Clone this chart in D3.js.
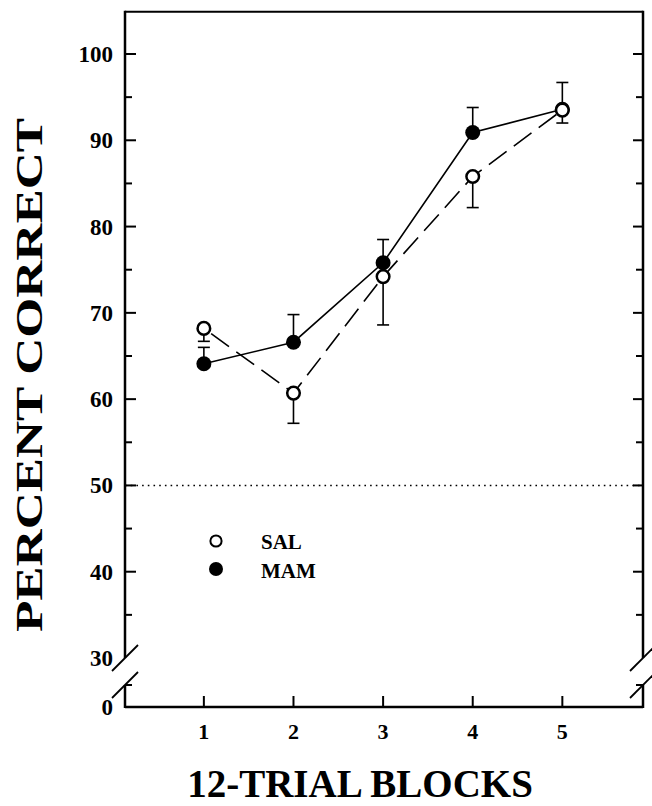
<!DOCTYPE html>
<html>
<head>
<meta charset="utf-8">
<script src="https://cdn.jsdelivr.net/npm/d3@7"></script>
<style>
  body { margin: 0; background: #fff; }
  text { font-family: "Liberation Serif", "Times New Roman", serif; font-weight: bold; fill: #000; }
</style>
</head>
<body>
<script>
// data
var blocks = [1, 2, 3, 4, 5];
var salMean = [68.2, 60.7, 74.2, 85.8, 93.5];
var mamMean = [64.1, 66.6, 75.8, 90.9, 93.6];
// error bar ends (null = not drawn / hidden)
var salHi = [null, null, null, null, 96.7];
var salLo = [66.7, 57.2, 68.6, 82.2, 92.0];
var mamHi = [66.0, 69.8, 78.5, 93.8, null];
var mamLo = [null, null, null, null, null];
var yTicks = [30, 40, 50, 60, 70, 80, 90, 100];
var yMinor = [35, 45, 55, 65, 75, 85, 95];

var width = 652, height = 806;

var svg = d3.select("body").append("svg")
    .attr("width", width)
    .attr("height", height);

// x scale
var x = d3.scaleLinear().domain([0.12, 5.9]).range([125, 643]);
// upper y part (30-105), lower part below the break (0-5)
var yTop = d3.scaleLinear().domain([30, 100]).range([658, 54]);
var yLow = d3.scaleLinear().domain([0, 5]).range([707, 685]);
function y(v) { return v >= 30 ? yTop(v) : yLow(v); }

var x0 = x.range()[0], x1 = x.range()[1];
var yTopEdge = yTop(104.9), yBottom = yLow(0);
var breakHi = yTop(30), breakLo = yLow(5);

var frame = svg.append("g").attr("stroke", "#000").attr("fill", "none");

// top line
frame.append("line").attr("x1", x0).attr("x2", x1).attr("y1", yTopEdge).attr("y2", yTopEdge).attr("stroke-width", 2);
// bottom axis
frame.append("line").attr("x1", x0).attr("x2", x1).attr("y1", yBottom).attr("y2", yBottom).attr("stroke-width", 2.5);
// left and right axis, upper segment and lower segment
[x0, x1].forEach(function(xx) {
    frame.append("line").attr("x1", xx).attr("x2", xx).attr("y1", yTopEdge - 1).attr("y2", breakHi).attr("stroke-width", 2.5);
    frame.append("line").attr("x1", xx).attr("x2", xx).attr("y1", breakLo).attr("y2", yBottom + 1).attr("stroke-width", 2.5);
    // break slashes
    [breakHi, breakLo].forEach(function(yy) {
        frame.append("line")
            .attr("x1", xx - 13).attr("y1", yy + 13)
            .attr("x2", xx + 13).attr("y2", yy - 13)
            .attr("stroke-width", 1.8);
    });
});

// y ticks (inward on both sides)
var majorT = yTicks.filter(function(d) { return d > 30; });
majorT.forEach(function(d) {
    frame.append("line").attr("x1", x0).attr("x2", x0 + 11).attr("y1", y(d)).attr("y2", y(d)).attr("stroke-width", 2);
    frame.append("line").attr("x1", x1).attr("x2", x1 - 10).attr("y1", y(d)).attr("y2", y(d)).attr("stroke-width", 2);
});
yMinor.forEach(function(d) {
    frame.append("line").attr("x1", x0).attr("x2", x0 + 7).attr("y1", y(d)).attr("y2", y(d)).attr("stroke-width", 2);
    frame.append("line").attr("x1", x1).attr("x2", x1 - 7).attr("y1", y(d)).attr("y2", y(d)).attr("stroke-width", 2);
});
// small tick on the lower segment
frame.append("line").attr("x1", x0).attr("x2", x0 + 7).attr("y1", yLow(5)).attr("y2", yLow(5)).attr("stroke-width", 2);
frame.append("line").attr("x1", x1).attr("x2", x1 - 7).attr("y1", yLow(5)).attr("y2", yLow(5)).attr("stroke-width", 2);

// x ticks
blocks.forEach(function(b) {
    frame.append("line").attr("x1", x(b)).attr("x2", x(b)).attr("y1", yBottom).attr("y2", yBottom - 11).attr("stroke-width", 2);
});

// tick labels
svg.selectAll(".ylab").data(yTicks).enter().append("text")
    .attr("class", "ylab")
    .attr("x", 113)
    .attr("y", function(d) { return y(d); })
    .attr("dy", "0.35em")
    .attr("text-anchor", "end")
    .attr("font-size", 23)
    .text(function(d) { return d; });
svg.append("text").attr("x", 113).attr("y", yLow(0)).attr("dy", "0.35em")
    .attr("text-anchor", "end").attr("font-size", 23).text("0");

svg.selectAll(".xlab").data(blocks).enter().append("text")
    .attr("class", "xlab")
    .attr("x", function(d) { return x(d); })
    .attr("y", 739)
    .attr("text-anchor", "middle")
    .attr("font-size", 22)
    .text(function(d) { return d; });

// axis titles
svg.append("text")
    .attr("transform", "translate(42,375) rotate(-90)")
    .attr("text-anchor", "middle")
    .attr("font-size", 38)
    .attr("textLength", 514)
    .attr("lengthAdjust", "spacingAndGlyphs")
    .text("PERCENT CORRECT");
svg.append("text")
    .attr("x", 360).attr("y", 797)
    .attr("text-anchor", "middle")
    .attr("font-size", 39)
    .text("12-TRIAL BLOCKS");

// chance line at 50
svg.append("line")
    .attr("x1", x0).attr("x2", x1).attr("y1", y(50)).attr("y2", y(50))
    .attr("stroke", "#000").attr("stroke-width", 1.6)
    .attr("stroke-dasharray", "1.6,4.1");

// error bars
function errBars(means, ends) {
    var g = svg.append("g").attr("stroke", "#000").attr("stroke-width", 1.6);
    means.forEach(function(m, i) {
        if (ends[i] === null) return;
        var xx = x(blocks[i]);
        g.append("line").attr("x1", xx).attr("x2", xx).attr("y1", y(m)).attr("y2", y(ends[i]));
        g.append("line").attr("x1", xx - 6).attr("x2", xx + 6).attr("y1", y(ends[i])).attr("y2", y(ends[i]));
    });
}
errBars(mamMean, mamHi);
errBars(mamMean, mamLo);
errBars(salMean, salHi);
errBars(salMean, salLo);

var line = d3.line()
    .x(function(d, i) { return x(blocks[i]); })
    .y(function(d) { return y(d); });

svg.append("path").datum(salMean)
    .attr("d", line).attr("fill", "none")
    .attr("stroke", "#000").attr("stroke-width", 1.6)
    .attr("stroke-dasharray", "22,9")
    .attr("stroke-dashoffset", -9);
svg.append("path").datum(mamMean)
    .attr("d", line).attr("fill", "none")
    .attr("stroke", "#000").attr("stroke-width", 1.6);

// markers
svg.selectAll(".mam").data(mamMean).enter().append("circle")
    .attr("class", "mam")
    .attr("cx", function(d, i) { return x(blocks[i]); })
    .attr("cy", function(d) { return y(d); })
    .attr("r", 7.5).attr("fill", "#000");
svg.selectAll(".sal").data(salMean).enter().append("circle")
    .attr("class", "sal")
    .attr("cx", function(d, i) { return x(blocks[i]); })
    .attr("cy", function(d) { return y(d); })
    .attr("r", 6.3).attr("fill", "#fff")
    .attr("stroke", "#000").attr("stroke-width", 2.5);

// legend
var legend = svg.append("g");
legend.append("circle").attr("cx", 216).attr("cy", 541).attr("r", 5.6)
    .attr("fill", "#fff").attr("stroke", "#000").attr("stroke-width", 2);
legend.append("circle").attr("cx", 216).attr("cy", 569).attr("r", 7)
    .attr("fill", "#000");
legend.append("text").attr("x", 261).attr("y", 549).attr("font-size", 21).text("SAL");
legend.append("text").attr("x", 261).attr("y", 578).attr("font-size", 21).text("MAM");
</script>
</body>
</html>
